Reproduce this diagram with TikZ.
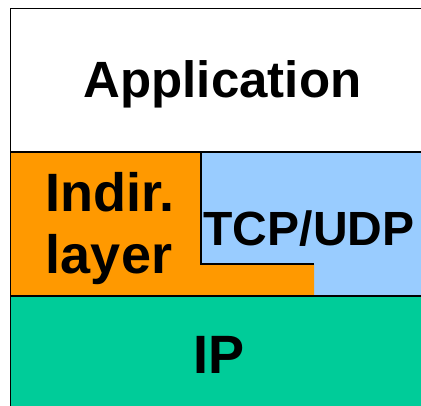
\documentclass[tikz,border=0pt]{standalone}
\usepackage{fontspec}
\setmainfont{Liberation Sans}
\definecolor{orangeL}{HTML}{FF9900}
\definecolor{blueL}{HTML}{99CCFF}
\definecolor{greenL}{HTML}{00CC99}
\begin{document}
\begin{tikzpicture}[x=1pt,y=-1pt,
  edge/.style={draw=black,line width=1.5pt},
  lbl/.style={anchor=base,inner sep=0pt,font=\bfseries}]
\useasboundingbox (0,0) rectangle (421,405);
\begin{scope}
\clip (0,0) rectangle (421,405);
\fill[white] (0,0) rectangle (421,405);
% Application
\draw[edge,fill=white] (10.5,8.5) rectangle (430,152);
% IP
\draw[edge,fill=greenL] (10.5,296) rectangle (430,420);
% TCP/UDP
\fill[blueL] (201,152) -- (430,152) -- (430,296) -- (314,296) -- (314,264) -- (201,264) -- cycle;
% Indirection layer
\fill[orangeL] (10.5,152) -- (201,152) -- (201,264) -- (314,264) -- (314,296) -- (10.5,296) -- cycle;
\draw[edge] (10.5,152) -- (430,152);
\draw[edge] (10.5,296) -- (430,296);
\draw[edge] (10.5,152) -- (10.5,296);
\draw[edge] (201,152) -- (201,264) -- (314,264);
\end{scope}
\node[lbl,font=\bfseries\fontsize{51}{61}\selectfont] (app) at (222.5,97) {Application};
\node[lbl,font=\bfseries\fontsize{54}{64}\selectfont] (indir) at (110,211) {Indir.};
\node[lbl,font=\bfseries\fontsize{54}{64}\selectfont] (layer) at (109,273) {layer};
\node[lbl,font=\bfseries\fontsize{48}{58}\selectfont] (tcp) at (309,245) {TCP/UDP};
\node[lbl,font=\bfseries\fontsize{54}{64}\selectfont] (ip) at (219,373) {IP};
\end{tikzpicture}
\end{document}
